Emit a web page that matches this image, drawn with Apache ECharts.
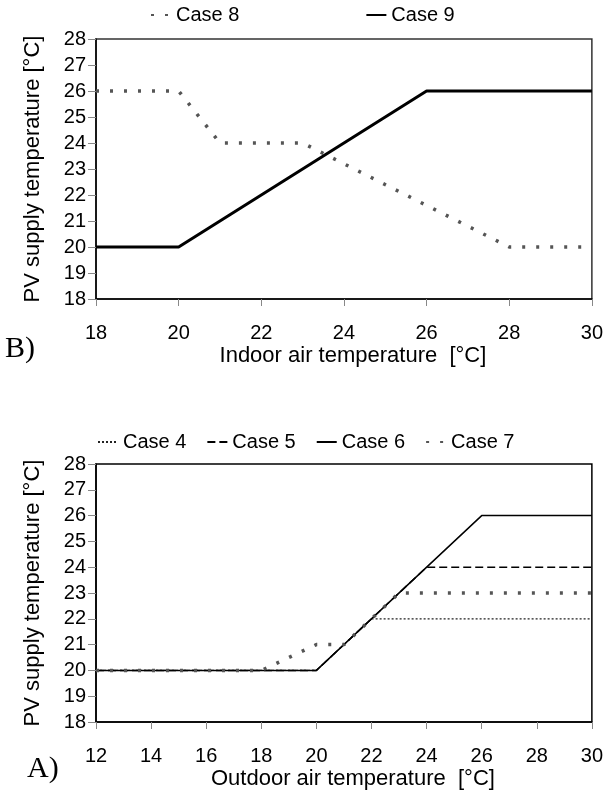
<!DOCTYPE html>
<html>
<head>
<meta charset="utf-8">
<script src="https://cdn.jsdelivr.net/npm/echarts@6/dist/echarts.min.js"></script>
<style>
  html, body { margin: 0; padding: 0; background: #fff; }
  #chart { width: 606px; height: 791px; }
</style>
</head>
<body>
<div id="chart"></div>
<script>
// panel B: indoor air temperature
const indoorX8 = [18, 20, 21, 23, 28, 30];
const case8 = [26, 26, 24, 24, 20, 20];
const indoorX9 = [18, 20, 26, 30];
const case9 = [20, 20, 26, 26];

// panel A: outdoor air temperature
const outX4 = [12, 20, 22, 30];
const case4 = [20, 20, 22, 22];
const outX5 = [12, 20, 24, 30];
const case5 = [20, 20, 24, 24];
const outX6 = [12, 20, 26, 30];
const case6 = [20, 20, 26, 26];
const outX7 = [12, 18, 20, 21, 23, 30];
const case7 = [20, 20, 21, 21, 23, 23];

const pairs = (xs, ys) => xs.map((x, i) => [x, ys[i]]);

const font = 'Liberation Sans';

const xAxisBase = (min, name, gridIndex) => ({
  type: 'value',
  gridIndex: gridIndex,
  min: min,
  max: 30,
  interval: 2,
  name: name,
  nameLocation: 'middle',
  nameGap: 46,
  nameTextStyle: { fontFamily: font, fontSize: 22, color: '#000', padding: [0, 0, 0, 18] },
  axisLine: { lineStyle: { color: '#000', width: 1.5 } },
  axisTick: { show: true, length: 7, lineStyle: { color: '#888' } },
  axisLabel: { fontFamily: font, fontSize: 20, color: '#000', margin: 24 },
  splitLine: { show: false }
});

const yAxisBase = (gridIndex) => ({
  type: 'value',
  gridIndex: gridIndex,
  min: 18,
  max: 28,
  interval: 1,
  name: 'PV supply temperature [°C]',
  nameLocation: 'middle',
  nameRotate: 90,
  nameGap: 52,
  nameTextStyle: { fontFamily: font, fontSize: 22, color: '#000' },
  axisLine: { show: true, lineStyle: { color: '#000', width: 1.5 } },
  axisTick: { show: true, length: 8, lineStyle: { color: '#888' } },
  axisLabel: { fontFamily: font, fontSize: 20, color: '#000', margin: 10 },
  splitLine: { show: false }
});

// small grey squares, like the marker-dotted lines of the original
const dotted = { color: '#555', width: 3.5, type: [3, 11] };

const chart = echarts.init(document.getElementById('chart'));

const legendBase = {
  itemWidth: 20,
  itemHeight: 12,
  itemStyle: { opacity: 0 },
  textStyle: { fontFamily: font, fontSize: 20, color: '#000' }
};

const option = {
  animation: false,
  backgroundColor: '#fff',
  legend: [
    Object.assign({}, legendBase, {
      data: ['Case 8', 'Case 9'],
      left: 145,
      top: 0,
      itemGap: 126
    }),
    Object.assign({}, legendBase, {
      data: ['Case 4', 'Case 5', 'Case 6', 'Case 7'],
      left: 92,
      top: 427,
      itemGap: 20
    })
  ],
  grid: [
    { left: 96, right: 14, top: 39, height: 260, show: true, borderColor: '#333', borderWidth: 1.5, backgroundColor: '#fff' },
    { left: 96, right: 14, top: 464, height: 260, show: true, borderColor: '#000', borderWidth: 1.5, backgroundColor: '#fff' }
  ],
  xAxis: [
    xAxisBase(18, 'Indoor air temperature  [°C]', 0),
    xAxisBase(12, 'Outdoor air temperature  [°C]', 1)
  ],
  yAxis: [yAxisBase(0), yAxisBase(1)],
  graphic: [
    { type: 'text', left: 5, top: 334, style: { text: 'B)', font: '30px "Liberation Serif"', fill: '#000' } },
    { type: 'text', left: 27, top: 754, style: { text: 'A)', font: '30px "Liberation Serif"', fill: '#000' } }
  ],
  series: [
    {
      name: 'Case 8', type: 'line', xAxisIndex: 0, yAxisIndex: 0,
      showSymbol: false, symbol: 'none',
      lineStyle: dotted, itemStyle: { color: '#555' },
      data: pairs(indoorX8, case8)
    },
    {
      name: 'Case 9', type: 'line', xAxisIndex: 0, yAxisIndex: 0,
      showSymbol: false, symbol: 'none',
      lineStyle: { color: '#000', width: 3 }, itemStyle: { color: '#000' },
      data: pairs(indoorX9, case9)
    },
    {
      name: 'Case 4', type: 'line', xAxisIndex: 1, yAxisIndex: 1,
      showSymbol: false, symbol: 'none',
      lineStyle: { color: '#222', width: 1.2, type: [2, 2] }, itemStyle: { color: '#222' },
      data: pairs(outX4, case4)
    },
    {
      name: 'Case 5', type: 'line', xAxisIndex: 1, yAxisIndex: 1,
      showSymbol: false, symbol: 'none',
      lineStyle: { color: '#000', width: 1.5, type: [8, 4] }, itemStyle: { color: '#000' },
      data: pairs(outX5, case5)
    },
    {
      name: 'Case 6', type: 'line', xAxisIndex: 1, yAxisIndex: 1,
      showSymbol: false, symbol: 'none',
      lineStyle: { color: '#000', width: 1.5 }, itemStyle: { color: '#000' },
      data: pairs(outX6, case6)
    },
    {
      name: 'Case 7', type: 'line', xAxisIndex: 1, yAxisIndex: 1,
      showSymbol: false, symbol: 'none',
      lineStyle: dotted, itemStyle: { color: '#555' },
      data: pairs(outX7, case7)
    }
  ]
};

chart.setOption(option);
</script>
</body>
</html>
